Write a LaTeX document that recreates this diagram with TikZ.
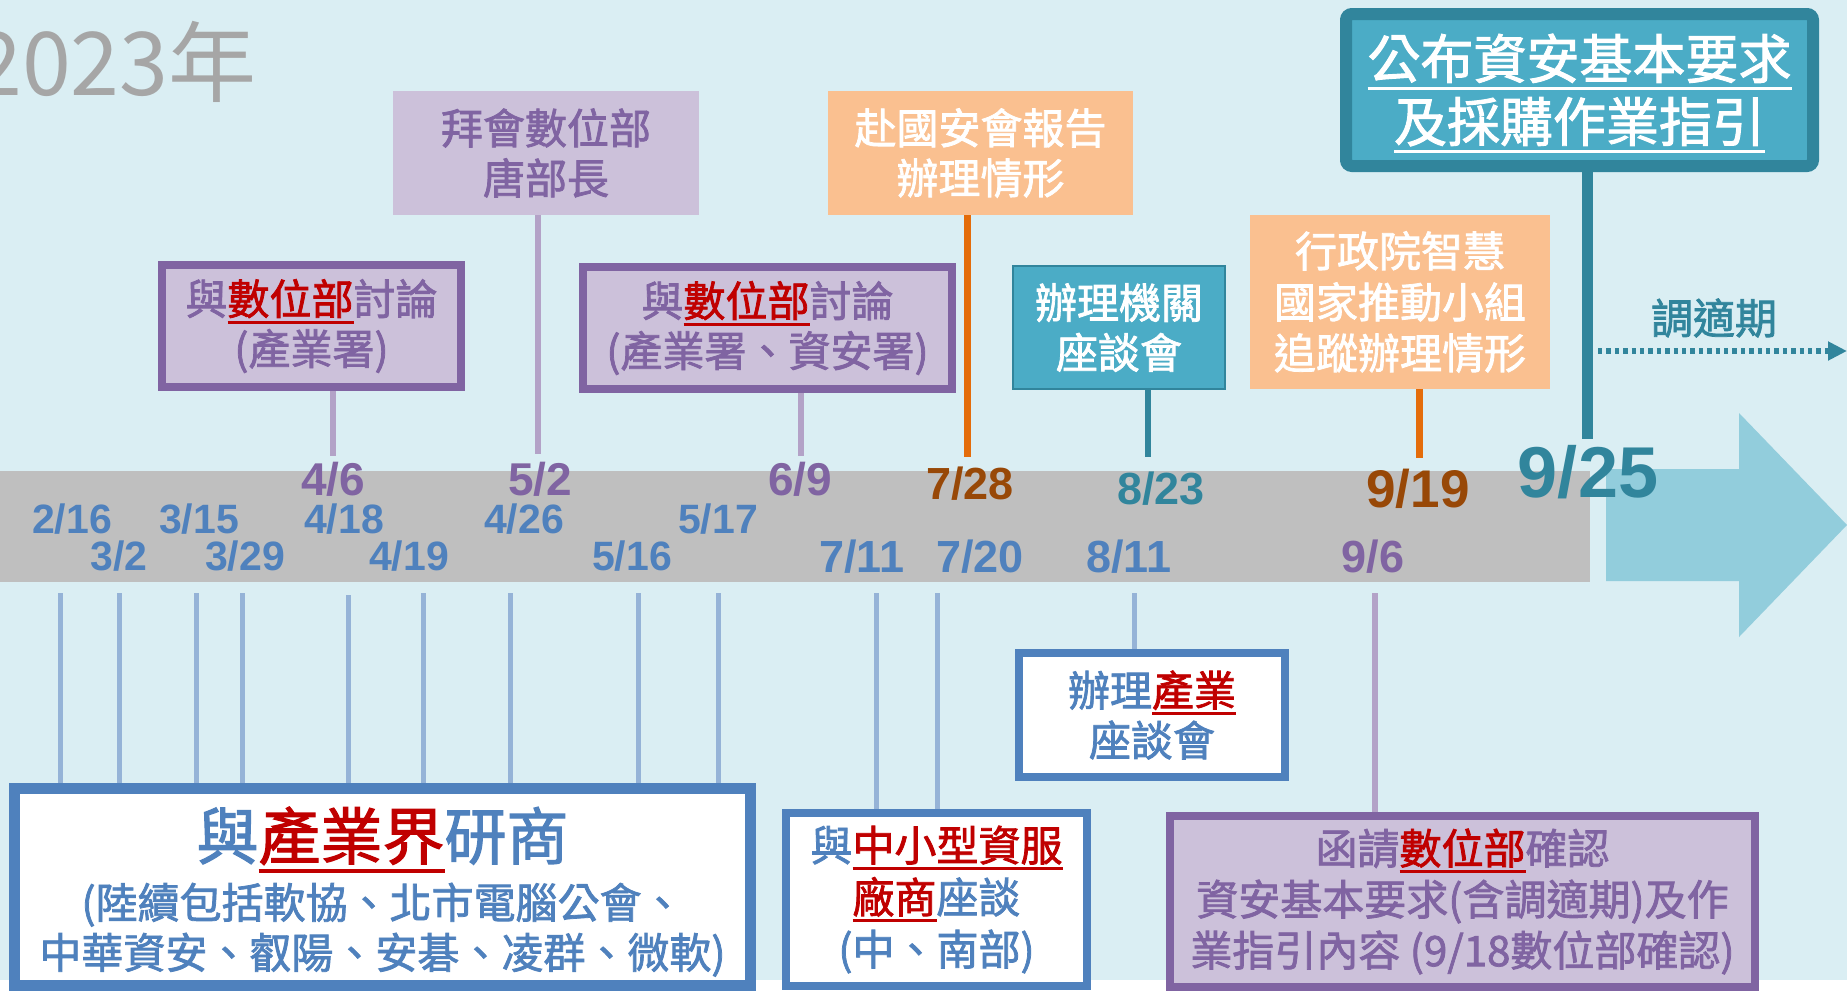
\documentclass[tikz,border=0pt]{standalone}
\usepackage{fontspec}
\usetikzlibrary{arrows.meta}
\newfontfamily\cjk[FakeBold=1.8]{Noto Sans CJK TC}
\newfontfamily\cjklight{Noto Sans CJK TC}
\newfontfamily\datefont{Liberation Sans}

\definecolor{bgblue}{HTML}{DAEEF3}
\definecolor{bandgray}{HTML}{BFBFBF}
\definecolor{arrowblue}{HTML}{92CDDC}
\definecolor{yeargray}{HTML}{A6A6A6}
\definecolor{tlblue}{HTML}{4F81BD}
\definecolor{tlblueline}{HTML}{95B3D7}
\definecolor{tlpurple}{HTML}{8064A2}
\definecolor{tllilac}{HTML}{CCC1DA}
\definecolor{tlpurpleline}{HTML}{B3A2C7}
\definecolor{tlred}{HTML}{C00000}
\definecolor{tlteal}{HTML}{4BACC6}
\definecolor{tltealdark}{HTML}{31859C}
\definecolor{tlpeach}{HTML}{FAC090}
\definecolor{tlorange}{HTML}{E46C0A}
\definecolor{tlbrown}{HTML}{984807}

% underlined word in a colour
\newcommand\ulword[2]{{\color{#1}\setbox0\hbox{#2}\rlap{\smash{\rule[-0.22em]{\wd0}{0.07em}}}\box0}}

\tikzset{
  box/.style={inner sep=0pt, align=center, font=\cjk\fontsize{21}{25}\selectfont},
  lilacbox/.style={box, fill=tllilac, text=tlpurple},
  purplebox/.style={lilacbox, draw=tlpurple, line width=4pt},
  peachbox/.style={box, fill=tlpeach, text=white},
  tealbox/.style={box, fill=tlteal, text=white},
  whitebox/.style={box, fill=white, draw=tlblue, line width=4pt, text=tlblue},
  datelbl/.style={inner sep=0pt, font=\datefont\bfseries\fontsize{20.5}{20.5}\selectfont, text=tlblue},
  bigdate/.style={datelbl, font=\datefont\bfseries\fontsize{22.5}{22.5}\selectfont},
  lowlink/.style={tlblueline, line width=2.5pt},
  purplelink/.style={tlpurpleline, line width=2.75pt},
  orangelink/.style={tlorange, line width=3.5pt},
  teallink/.style={tltealdark, line width=2.75pt}
}

\begin{document}
\begin{tikzpicture}[x=0.5pt, y=-0.5pt]
\useasboundingbox (0,0) rectangle (1847,991);
\fill[white] (0,0) rectangle (1847,991);
\fill[bgblue] (0,0) rectangle (1847,980);

% time band and arrow
\fill[bandgray] (0,471) rectangle (1590,582);
\fill[arrowblue] (1606,469) -- (1739,469) -- (1739,413) -- (1847,525)
  -- (1739,637) -- (1739,581) -- (1606,581) -- cycle;

\node[inner sep=0pt, anchor=east, text=yeargray,
  font=\cjklight\fontsize{44}{44}\selectfont] (year) at (257,62) {2023年};

% boxes above the band
\node[lilacbox, minimum width=153pt, minimum height=62pt] (visit) at (546,153)
  {拜會數位部\\唐部長};
\node[purplebox, minimum width=149.5pt, minimum height=61pt] (disc1) at (311.5,326)
  {與\ulword{tlred}{數位部}討論\\(產業署)};
\node[purplebox, minimum width=184.5pt, minimum height=61pt] (disc2) at (767.5,328)
  {與\ulword{tlred}{數位部}討論\\(產業署、資安署)};
\node[peachbox, minimum width=152.5pt, minimum height=62pt] (nsc) at (980.5,153)
  {赴國安會報告\\辦理情形};
\node[tealbox, draw=tltealdark, line width=1pt, minimum width=106pt,
  minimum height=61.5pt] (agency) at (1119,327.5) {辦理機關\\座談會};
\node[peachbox, minimum width=150pt, minimum height=87pt,
  font=\cjk\fontsize{21}{25.5}\selectfont] (smart) at (1400,302)
  {行政院智慧\\國家推動小組\\追蹤辦理情形};
\node[tealbox, draw=tltealdark, line width=6pt, rounded corners=3pt,
  minimum width=233.5pt, minimum height=76pt,
  font=\cjk\fontsize{26.5}{31.5}\selectfont] (publish) at (1579.5,90)
  {\ulword{white}{公布資安基本要求}\\\ulword{white}{及採購作業指引}};
\node[inner sep=0pt, text=tltealdark, font=\cjk\fontsize{21}{21}\selectfont]
  (adjust) at (1714,318) {調適期};

% boxes below the band
\node[whitebox, minimum width=133pt, minimum height=62pt] (indmeet) at (1152,715)
  {辦理\ulword{tlred}{產業}\\座談會};
\node[whitebox, minimum width=150.5pt, minimum height=86.5pt,
  font=\cjk\fontsize{21}{26}\selectfont] (smb) at (936.5,899.5)
  {與\ulword{tlred}{中小型資服}\\\ulword{tlred}{廠商}座談\\(中、南部)};
\node[purplebox, minimum width=292.5pt, minimum height=85.5pt,
  font=\cjk\fontsize{21}{25.5}\selectfont] (confirm) at (1462.5,901.5)
  {函請\ulword{tlred}{數位部}確認\\資安基本要求(含調適期)及作\\業指引內容 (9/18數位部確認)};
\node[whitebox, line width=5.5pt, minimum width=368pt, minimum height=98.5pt]
  (ind) at (382.5,887)
  {{\fontsize{31}{31}\selectfont\rule{0pt}{1em}與\ulword{tlred}{產業界}研商}\\[4.5pt]
   (陸續包括軟協、北市電腦公會、\\中華資安、叡陽、安碁、凌群、微軟)};

% dates
\node[datelbl] (d0216) at (72,519) {2/16};
\node[datelbl] (d0302) at (119,556) {3/2};
\node[datelbl] (d0315) at (199,519) {3/15};
\node[datelbl] (d0329) at (245,556) {3/29};
\node[datelbl] (d0418) at (344,519) {4/18};
\node[datelbl] (d0419) at (409,556) {4/19};
\node[datelbl] (d0426) at (524,519) {4/26};
\node[datelbl] (d0516) at (632,556) {5/16};
\node[datelbl] (d0517) at (718,519) {5/17};
\node[bigdate] (d0711) at (862,557) {7/11};
\node[bigdate] (d0720) at (980,557) {7/20};
\node[bigdate] (d0811) at (1129,557) {8/11};
\node[bigdate, text=tlpurple] (d0906) at (1373,557) {9/6};
\node[datelbl, text=tlpurple, font=\datefont\bfseries\fontsize{23}{23}\selectfont]
  (d0406) at (333,479) {4/6};
\node[datelbl, text=tlpurple, font=\datefont\bfseries\fontsize{23}{23}\selectfont]
  (d0502) at (540,479) {5/2};
\node[datelbl, text=tlpurple, font=\datefont\bfseries\fontsize{23}{23}\selectfont]
  (d0609) at (800,479) {6/9};
\node[bigdate, text=tlbrown] (d0728) at (970,484) {7/28};
\node[bigdate, text=tltealdark] (d0823) at (1161,489) {8/23};
\node[datelbl, text=tlbrown, font=\datefont\bfseries\fontsize{26.5}{26.5}\selectfont]
  (d0919) at (1418,489) {9/19};
\node[datelbl, text=tltealdark, font=\datefont\bfseries\fontsize{36}{36}\selectfont]
  (d0925) at (1588,472) {9/25};

% free ends of the connectors at the band
\coordinate (u0406) at (333,456);
\coordinate (u0502) at (538,454);
\coordinate (u0609) at (801,456);
\coordinate (u0728) at (967,457);
\coordinate (u0823) at (1148,457);
\coordinate (u0919) at (1419,458);
\coordinate (u0925) at (1587,439);
\coordinate (e0216) at (60,593);
\coordinate (e0302) at (119,593);
\coordinate (e0315) at (196,593);
\coordinate (e0329) at (242,593);
\coordinate (e0418) at (348,595);
\coordinate (e0419) at (423,593);
\coordinate (e0426) at (510,593);
\coordinate (e0516) at (638,593);
\coordinate (e0517) at (718,593);
\coordinate (e0711) at (876,593);
\coordinate (e0720) at (937,593);
\coordinate (e0811) at (1134,593);
\coordinate (e0906) at (1375,593);
\coordinate (adjs) at (1598,351);
\coordinate (adje) at (1847,351);

% connectors above
\draw[purplelink] (disc1.south -| u0406) -- (u0406);
\draw[purplelink] (visit.south -| u0502) -- (u0502);
\draw[purplelink] (disc2.south -| u0609) -- (u0609);
\draw[orangelink] (nsc.south -| u0728) -- (u0728);
\draw[teallink] (agency.south -| u0823) -- (u0823);
\draw[orangelink] (smart.south -| u0919) -- (u0919);
\draw[teallink, line width=5.5pt] (publish.south -| u0925) -- (u0925);
\draw[tltealdark, line width=2.75pt, dash pattern=on 2.2pt off 2pt,
  -{Triangle[length=9.5pt, width=9pt]}] (adjs) -- (adje);

% connectors below
\draw[lowlink] (e0216) -- (e0216 |- ind.north);
\draw[lowlink] (e0302) -- (e0302 |- ind.north);
\draw[lowlink] (e0315) -- (e0315 |- ind.north);
\draw[lowlink] (e0329) -- (e0329 |- ind.north);
\draw[lowlink] (e0418) -- (e0418 |- ind.north);
\draw[lowlink] (e0419) -- (e0419 |- ind.north);
\draw[lowlink] (e0426) -- (e0426 |- ind.north);
\draw[lowlink] (e0516) -- (e0516 |- ind.north);
\draw[lowlink] (e0517) -- (e0517 |- ind.north);
\draw[lowlink] (e0711) -- (e0711 |- smb.north);
\draw[lowlink] (e0720) -- (e0720 |- smb.north);
\draw[lowlink] (e0811) -- (e0811 |- indmeet.north);
\draw[purplelink] (e0906) -- (e0906 |- confirm.north);
\end{tikzpicture}
\end{document}
